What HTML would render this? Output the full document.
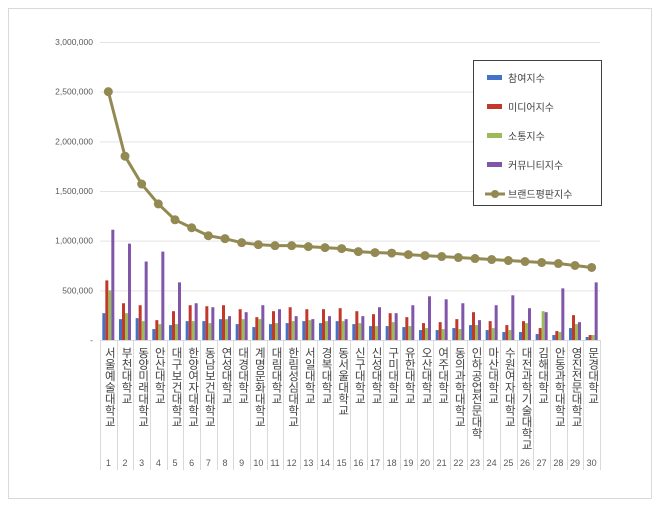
<!DOCTYPE html>
<html><head><meta charset="utf-8"><style>
body{margin:0;background:#fff;}
svg{display:block;font-family:"Liberation Sans","Noto Sans CJK KR",sans-serif;}
</style></head><body>
<svg id="c" width="660" height="507">
<rect x="8.5" y="8.5" width="643" height="490" fill="#fff" stroke="#d9d9d9"/>
<g id="grid"></g><g id="bars"></g><g id="line"></g><g id="xl"></g>
<g>
<rect x="473.5" y="60.5" width="128" height="145" fill="#fff" stroke="#404040"/>
</g>
<g id="leg"></g>
</svg>
<script>
const names=["서울예술대학교","부천대학교","동양미래대학교","안산대학교","대구보건대학교","한양여자대학교","동남보건대학교","연성대학교","대경대학교","계명문화대학교","대림대학교","한림성심대학교","서일대학교","경복대학교","동서울대학교","신구대학교","신성대학교","구미대학교","유한대학교","오산대학교","여주대학교","동의과학대학교","인하공업전문대학","마산대학교","수원여자대학교","대전과학기술대학교","김해대학교","안동과학대학교","영진전문대학교","문경대학교"];
const participation=[270000,210000,220000,110000,150000,190000,190000,210000,160000,130000,160000,170000,190000,170000,190000,160000,140000,140000,130000,100000,100000,120000,150000,100000,80000,80000,60000,50000,120000,30000];
const media=[600000,370000,350000,200000,290000,350000,340000,350000,310000,230000,290000,330000,310000,310000,320000,290000,260000,270000,230000,170000,180000,210000,280000,190000,150000,190000,120000,90000,250000,50000];
const communication=[500000,270000,190000,160000,160000,190000,170000,210000,210000,210000,170000,190000,200000,190000,190000,170000,140000,180000,140000,120000,110000,110000,150000,120000,100000,170000,290000,80000,160000,50000];
const community=[1110000,970000,790000,890000,580000,370000,330000,240000,280000,350000,310000,240000,210000,240000,210000,240000,330000,270000,350000,440000,410000,370000,200000,350000,450000,320000,280000,520000,180000,580000];
const brand=[2500000,1850000,1570000,1370000,1210000,1130000,1050000,1020000,980000,960000,950000,950000,940000,930000,920000,890000,880000,875000,860000,850000,840000,830000,820000,810000,800000,790000,780000,770000,750000,730000];
const yTicks=[0,500000,1000000,1500000,2000000,2500000,3000000];
const seriesNames=["참여지수","미디어지수","소통지수","커뮤니티지수","브랜드평판지수"];
const colors=["#4472c4","#c0392b","#9bbb59","#7f56a8","#938953"];
const NS="http://www.w3.org/2000/svg";
const X0=100,X1=600,Y0=340,Y1=42,YMAX=3000000;
const n=names.length,cw=(X1-X0)/n;
const y=v=>Y0-(v/YMAX)*(Y0-Y1);
const xc=i=>X0+cw*(i+0.5);
function mk(t,p,a){const e=document.createElementNS(NS,t);for(const k in a)e.setAttribute(k,a[k]);p.appendChild(e);return e;}
const g=document.getElementById('grid');
yTicks.forEach(t=>{
 const l=mk('line',g,{x1:X0,x2:X1,y1:y(t)+0.5,y2:y(t)+0.5,stroke:'#e3e3e3'});
 
 
 const tx=mk('text',g,{x:93,y:y(t)+3,'text-anchor':'end','font-size':'8.5',fill:'#595959'});
 tx.textContent=t===0?'-':t.toLocaleString('en-US');
 
 
});
const b=document.getElementById('bars');
const sets=[participation,media,communication,community];
sets.forEach((s,k)=>s.forEach((v,i)=>{
 const r=mk('rect',b,{x:xc(i)-6+k*3,y:y(v),width:3,height:Y0-y(v),fill:colors[k]});
 
 
}));
const L=document.getElementById('line');
const pl=mk('polyline',L,{points:brand.map((v,i)=>xc(i)+','+y(v)).join(' '),fill:'none',stroke:colors[4],'stroke-width':3});


brand.forEach((v,i)=>{
 const c=mk('circle',L,{cx:xc(i),cy:y(v),r:4.5,fill:colors[4]});
 
 
});
const xl=document.getElementById('xl');
mk('line',xl,{x1:X0,x2:X1,y1:Y0+0.5,y2:Y0+0.5,stroke:'#d9d9d9'});
for(let i=0;i<=n;i++){const xx=Math.round(X0+cw*i)+0.5;mk('line',xl,{x1:xx,x2:xx,y1:Y0,y2:470,stroke:'#d9d9d9'});}
names.forEach((nm,i)=>{
 const t=mk('text',xl,{x:xc(i)+1,y:347,'font-size':'11.5',fill:'#404040','writing-mode':'vertical-rl'});
 t.textContent=nm;
 
 
 const num=mk('text',xl,{x:xc(i),y:466,'text-anchor':'middle','font-size':'9',fill:'#595959'});
 num.textContent=String(i+1);
 
 
});
const lg=document.getElementById('leg');
seriesNames.forEach((s,k)=>{
 const yy=78+k*29;
 if(k<4){const r=mk('rect',lg,{x:487,y:yy-3,width:15,height:5,fill:colors[k]});}
 else{mk('line',lg,{x1:485,x2:505,y1:yy,y2:yy,stroke:colors[4],'stroke-width':3});const c=mk('circle',lg,{cx:495,cy:yy,r:4,fill:colors[4]});}
 const t=mk('text',lg,{x:508,y:yy+4,'font-size':'10',fill:'#404040'});
 t.textContent=s;
 
 
});
</script>
</body></html>
